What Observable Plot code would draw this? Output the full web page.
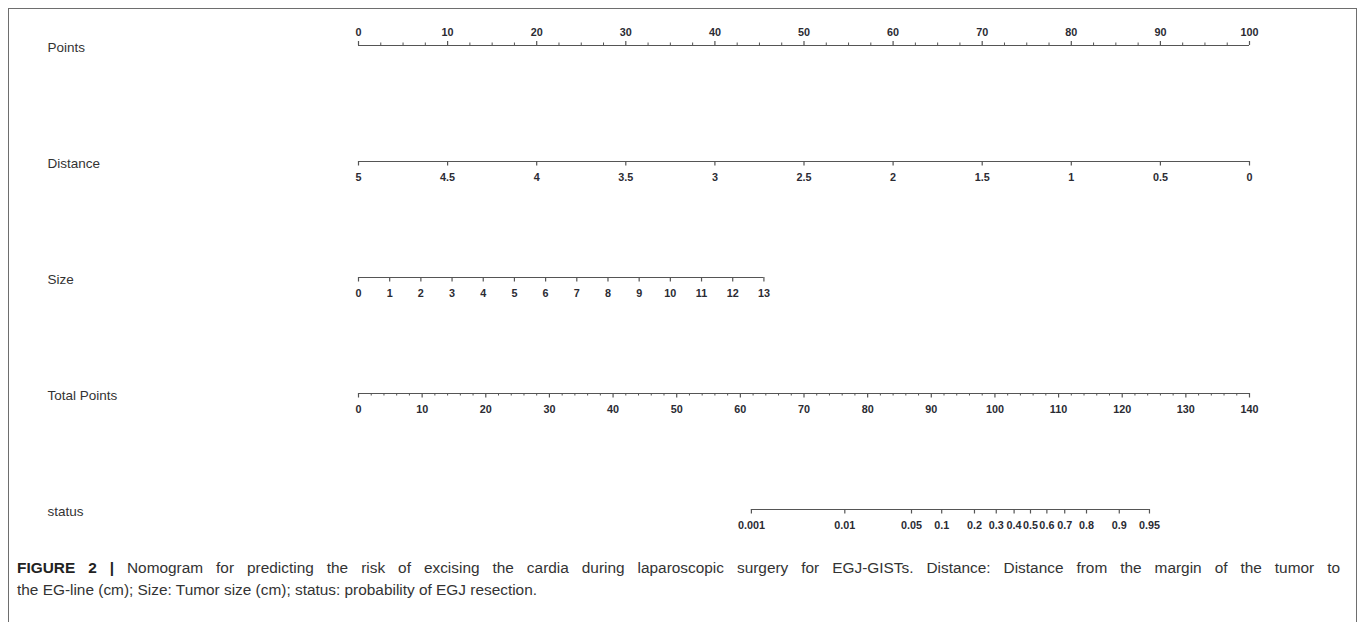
<!DOCTYPE html>
<html>
<head>
<meta charset="utf-8">
<script src="https://cdn.jsdelivr.net/npm/d3@7"></script>
<script src="https://cdn.jsdelivr.net/npm/@observablehq/plot@0.6"></script>
<style>
  html, body { margin: 0; padding: 0; background: #fff; overflow: hidden; }
  #page { position: relative; width: 1359px; height: 622px; }
  #frame { position: absolute; left: 8px; top: 8px; width: 1349px; height: 700px;
           border: 1.5px solid #6e6e6e; box-sizing: border-box; }
  #chart { position: absolute; left: 0; top: 0; }
  #caption { position: absolute; left: 17px; top: 557px; width: 1323px;
             font-family: "Liberation Sans", Arial, sans-serif; font-size: 15.4px; color: #333; line-height: 22px; }
  #caption .l1 { text-align: justify; text-align-last: justify; white-space: nowrap; }
  #caption b { font-weight: bold; color: #222; }
</style>
</head>
<body>
<div id="page">
  <div id="frame"></div>
  <div id="chart"></div>
  <div id="caption">
    <div class="l1"><b>FIGURE 2 |</b> Nomogram for predicting the risk of excising the cardia during laparoscopic surgery for EGJ-GISTs. Distance: Distance from the margin of the tumor to</div>
    <div class="l2">the EG-line (cm); Size: Tumor size (cm); status: probability of EGJ resection.</div>
  </div>
</div>
<script>
// ---- data ----
const rows = ["Points", "Distance", "Size", "Total Points", "status"];

const pointsLabels = [0, 10, 20, 30, 40, 50, 60, 70, 80, 90, 100];
const pointsMinorStep = 2.5;

const distanceLabels = [5, 4.5, 4, 3.5, 3, 2.5, 2, 1.5, 1, 0.5, 0];
const distanceMax = 5;            // distance 5 cm -> 0 points, 0 cm -> 100 points

const sizeLabels = [0, 1, 2, 3, 4, 5, 6, 7, 8, 9, 10, 11, 12, 13];
const sizeMaxPoints = 45.5;       // 13 cm -> ~45.5 points
const sizeMax = 13;

const totalLabels = [0, 10, 20, 30, 40, 50, 60, 70, 80, 90, 100, 110, 120, 130, 140];
const totalMinorStep = 2;
const totalMax = 140;

const statusLabels = [0.001, 0.01, 0.05, 0.1, 0.2, 0.3, 0.4, 0.5, 0.6, 0.7, 0.8, 0.9, 0.95];
const statusIntercept = -16.63;   // linear predictor = intercept + slope * total points
const statusSlope = 0.1575;

// ---- mappings to the Points scale ----
const distToPts = d => (distanceMax - d) * 100 / distanceMax;
const sizeToPts = s => s * sizeMaxPoints / sizeMax;
const totalToPts = t => t * 100 / totalMax;
const statusToPts = p => totalToPts((Math.log(p / (1 - p)) - statusIntercept) / statusSlope);

const fmt = v => String(v);

const majors = [];
const minors = [];
pointsLabels.forEach(v => majors.push({row: "Points", x: v, label: fmt(v)}));
d3.range(0, 100 + 1e-9, pointsMinorStep).filter(v => v % 10 !== 0)
  .forEach(v => minors.push({row: "Points", x: v}));
distanceLabels.forEach(v => majors.push({row: "Distance", x: distToPts(v), label: fmt(v)}));
sizeLabels.forEach(v => majors.push({row: "Size", x: sizeToPts(v), label: fmt(v)}));
totalLabels.forEach(v => majors.push({row: "Total Points", x: totalToPts(v), label: fmt(v)}));
d3.range(0, totalMax + 1e-9, totalMinorStep).filter(v => v % 10 !== 0)
  .forEach(v => minors.push({row: "Total Points", x: totalToPts(v)}));
statusLabels.forEach(v => majors.push({row: "status", x: statusToPts(v), label: fmt(v)}));

const lines = rows.map(r => {
  const xs = majors.filter(d => d.row === r).map(d => d.x);
  return {row: r, x1: d3.min(xs), x2: d3.max(xs)};
});

const up = d => d.row === "Points";
const down = d => d.row !== "Points";

const stroke = "#555";
const plot = Plot.plot({
  width: 1359,
  height: 548,
  marginLeft: 358,
  marginRight: 110,
  marginTop: 0,
  marginBottom: 0,
  style: {fontFamily: "'Liberation Sans', Arial, sans-serif", background: "transparent", overflow: "visible"},
  x: {domain: [0, 100], axis: null},
  y: {type: "point", domain: rows, range: [44, 510], padding: 0, axis: null},
  marks: [
    Plot.ruleY(lines, {y: "row", x1: "x1", x2: "x2", stroke, strokeWidth: 1.2}),
    Plot.ruleX(majors.filter(up), {x: "x", y1: "row", y2: "row", insetTop: -4, stroke, strokeWidth: 1.2}),
    Plot.ruleX(minors.filter(up), {x: "x", y1: "row", y2: "row", insetTop: -2.5, stroke, strokeWidth: 1}),
    Plot.ruleX(majors.filter(down), {x: "x", y1: "row", y2: "row", insetBottom: -4.5, stroke, strokeWidth: 1.2}),
    Plot.ruleX(minors.filter(down), {x: "x", y1: "row", y2: "row", insetBottom: -2.5, stroke, strokeWidth: 1}),
    Plot.text(majors.filter(up), {x: "x", y: "row", text: "label", dy: -12.5, fontSize: 10.8, fill: "#2b2b33", fontWeight: "bold"}),
    Plot.text(majors.filter(down), {x: "x", y: "row", text: "label", dy: 16, fontSize: 10.8, fill: "#2b2b33", fontWeight: "bold"}),
    Plot.text(rows, {y: d => d, text: d => d, frameAnchor: "left", dx: -311, dy: 2, textAnchor: "start", fontSize: 13.5, fill: "#333"})
  ]
});
document.getElementById("chart").appendChild(plot);
</script>
</body>
</html>
